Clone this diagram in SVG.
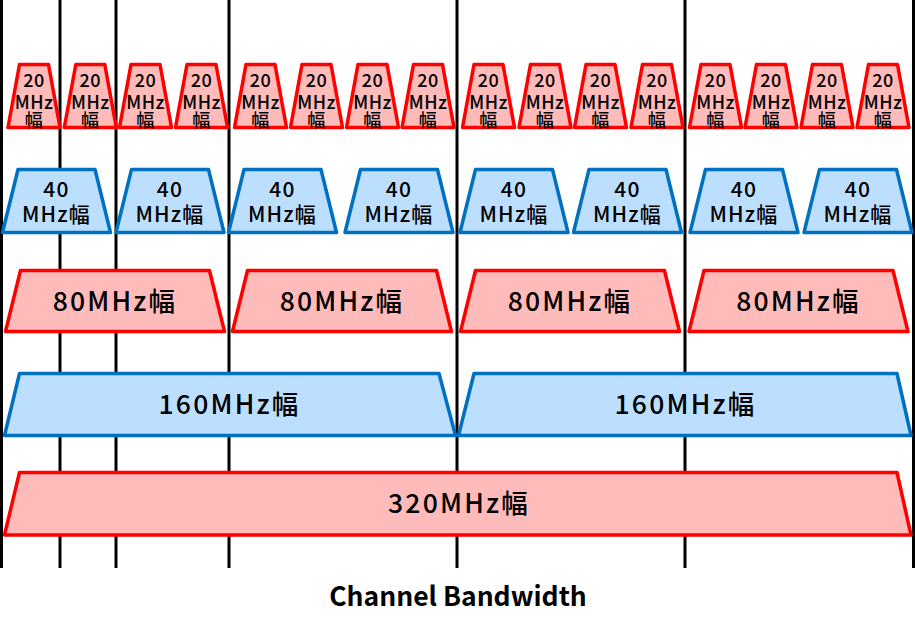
<svg xmlns="http://www.w3.org/2000/svg" width="915" height="633" viewBox="0 0 915 633">
<style>
.r{fill:#FFBABA;stroke:#FF0000;stroke-width:3.5;stroke-linejoin:round}
.b{fill:#BCDFFF;stroke:#0070C0;stroke-width:3.5;stroke-linejoin:round}
text{font-family:"Noto Sans CJK JP","Noto Sans",sans-serif;fill:#000;text-anchor:middle;font-weight:500}
.t20{font-size:18px;letter-spacing:0.5px}
.t40{font-size:21px;letter-spacing:1.2px}
.tb{font-size:26.5px;letter-spacing:2.2px}
.title{font-size:26.5px;font-weight:bold}
.grid line{stroke:#000;stroke-width:3}
</style>
<rect width="915" height="633" fill="#fff"/>
<g id="grid" class="grid">
<line x1="1.5" y1="0" x2="1.5" y2="568"/>
<line x1="60" y1="0" x2="60" y2="568"/>
<line x1="116" y1="0" x2="116" y2="568"/>
<line x1="229" y1="0" x2="229" y2="568"/>
<line x1="457" y1="0" x2="457" y2="568"/>
<line x1="685" y1="0" x2="685" y2="568"/>
<line x1="913.5" y1="0" x2="913.5" y2="568"/>
</g>
<defs>
<polygon id="p20" points="-26,127.5 -14.5,64.5 14.5,64.5 26,127.5"/>
<polygon id="p40" points="-54,232.5 -38.5,169.5 38.5,169.5 54,232.5"/>
<polygon id="p80" points="-109.5,331.5 -94.5,270.5 94.5,270.5 109.5,331.5"/>
</defs>
<g id="ch20-1" transform="translate(34,0)"><use href="#p20" class="r"/><text class="t20" y="87">20</text><text class="t20" y="108.5">MHz</text><text class="t20" y="127">幅</text></g>
<g id="ch20-2" transform="translate(90.3,0)"><use href="#p20" class="r"/><text class="t20" y="87">20</text><text class="t20" y="108.5">MHz</text><text class="t20" y="127">幅</text></g>
<g id="ch20-3" transform="translate(145.5,0)"><use href="#p20" class="r"/><text class="t20" y="87">20</text><text class="t20" y="108.5">MHz</text><text class="t20" y="127">幅</text></g>
<g id="ch20-4" transform="translate(201.5,0)"><use href="#p20" class="r"/><text class="t20" y="87">20</text><text class="t20" y="108.5">MHz</text><text class="t20" y="127">幅</text></g>
<g id="ch20-5" transform="translate(260.5,0)"><use href="#p20" class="r"/><text class="t20" y="87">20</text><text class="t20" y="108.5">MHz</text><text class="t20" y="127">幅</text></g>
<g id="ch20-6" transform="translate(316.5,0)"><use href="#p20" class="r"/><text class="t20" y="87">20</text><text class="t20" y="108.5">MHz</text><text class="t20" y="127">幅</text></g>
<g id="ch20-7" transform="translate(372.5,0)"><use href="#p20" class="r"/><text class="t20" y="87">20</text><text class="t20" y="108.5">MHz</text><text class="t20" y="127">幅</text></g>
<g id="ch20-8" transform="translate(428,0)"><use href="#p20" class="r"/><text class="t20" y="87">20</text><text class="t20" y="108.5">MHz</text><text class="t20" y="127">幅</text></g>
<g id="ch20-9" transform="translate(488.5,0)"><use href="#p20" class="r"/><text class="t20" y="87">20</text><text class="t20" y="108.5">MHz</text><text class="t20" y="127">幅</text></g>
<g id="ch20-10" transform="translate(545,0)"><use href="#p20" class="r"/><text class="t20" y="87">20</text><text class="t20" y="108.5">MHz</text><text class="t20" y="127">幅</text></g>
<g id="ch20-11" transform="translate(600.5,0)"><use href="#p20" class="r"/><text class="t20" y="87">20</text><text class="t20" y="108.5">MHz</text><text class="t20" y="127">幅</text></g>
<g id="ch20-12" transform="translate(657,0)"><use href="#p20" class="r"/><text class="t20" y="87">20</text><text class="t20" y="108.5">MHz</text><text class="t20" y="127">幅</text></g>
<g id="ch20-13" transform="translate(715.5,0)"><use href="#p20" class="r"/><text class="t20" y="87">20</text><text class="t20" y="108.5">MHz</text><text class="t20" y="127">幅</text></g>
<g id="ch20-14" transform="translate(771,0)"><use href="#p20" class="r"/><text class="t20" y="87">20</text><text class="t20" y="108.5">MHz</text><text class="t20" y="127">幅</text></g>
<g id="ch20-15" transform="translate(827,0)"><use href="#p20" class="r"/><text class="t20" y="87">20</text><text class="t20" y="108.5">MHz</text><text class="t20" y="127">幅</text></g>
<g id="ch20-16" transform="translate(883,0)"><use href="#p20" class="r"/><text class="t20" y="87">20</text><text class="t20" y="108.5">MHz</text><text class="t20" y="127">幅</text></g>

<g id="ch40-1" transform="translate(56.5,0)"><use href="#p40" class="b"/><text class="t40" y="197">40</text><text class="t40" y="222">MHz幅</text></g>
<g id="ch40-2" transform="translate(170,0)"><use href="#p40" class="b"/><text class="t40" y="197">40</text><text class="t40" y="222">MHz幅</text></g>
<g id="ch40-3" transform="translate(282.5,0)"><use href="#p40" class="b"/><text class="t40" y="197">40</text><text class="t40" y="222">MHz幅</text></g>
<g id="ch40-4" transform="translate(399,0)"><use href="#p40" class="b"/><text class="t40" y="197">40</text><text class="t40" y="222">MHz幅</text></g>
<g id="ch40-5" transform="translate(514,0)"><use href="#p40" class="b"/><text class="t40" y="197">40</text><text class="t40" y="222">MHz幅</text></g>
<g id="ch40-6" transform="translate(627.5,0)"><use href="#p40" class="b"/><text class="t40" y="197">40</text><text class="t40" y="222">MHz幅</text></g>
<g id="ch40-7" transform="translate(744,0)"><use href="#p40" class="b"/><text class="t40" y="197">40</text><text class="t40" y="222">MHz幅</text></g>
<g id="ch40-8" transform="translate(858,0)"><use href="#p40" class="b"/><text class="t40" y="197">40</text><text class="t40" y="222">MHz幅</text></g>

<g id="ch80-1" transform="translate(115,0)"><use href="#p80" class="r"/><text class="tb" y="310.5">80MHz幅</text></g>
<g id="ch80-2" transform="translate(342,0)"><use href="#p80" class="r"/><text class="tb" y="310.5">80MHz幅</text></g>
<g id="ch80-3" transform="translate(570,0)"><use href="#p80" class="r"/><text class="tb" y="310.5">80MHz幅</text></g>
<g id="ch80-4" transform="translate(798.5,0)"><use href="#p80" class="r"/><text class="tb" y="310.5">80MHz幅</text></g>

<g id="ch160-1"><polygon class="b" points="4.5,435.5 19.5,373.5 439,373.5 455.5,435.5"/><text class="tb" x="229.5" y="413.5">160MHz幅</text></g>
<g id="ch160-2"><polygon class="b" points="458.5,435.5 474,373.5 897,373.5 911,435.5"/><text class="tb" x="685.5" y="413.5">160MHz幅</text></g>

<g id="ch320"><polygon class="r" points="4.5,535 19.5,472.5 897,472.5 911,535"/><text class="tb" x="459" y="512.5">320MHz幅</text></g>

<text class="title" x="458" y="606">Channel Bandwidth</text>
</svg>
